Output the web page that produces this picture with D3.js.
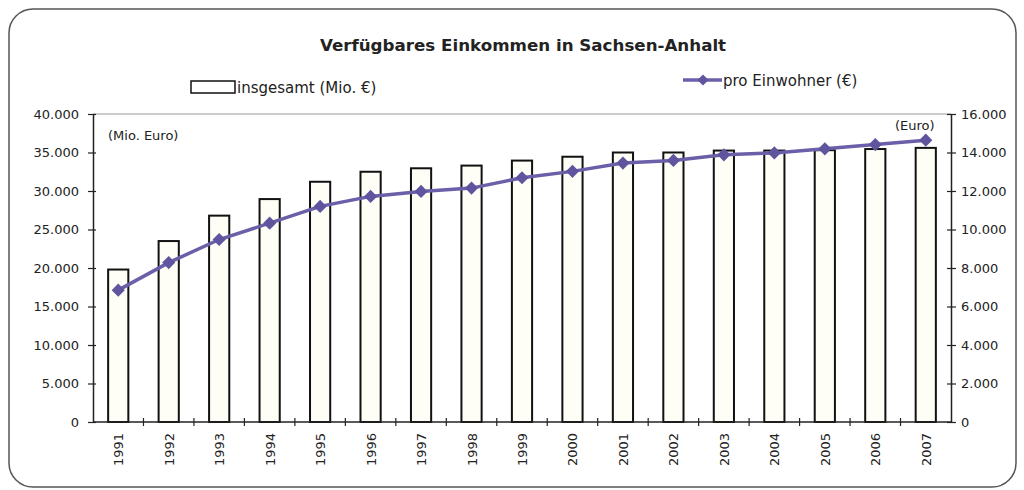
<!DOCTYPE html>
<html><head><meta charset="utf-8">
<script src="https://cdn.jsdelivr.net/npm/d3@7"></script>
<style>body{margin:0;background:#fff;}svg{display:block;font-family:"DejaVu Sans",sans-serif;}</style>
</head><body>
<svg id="c" width="1024" height="490"></svg>
<script>
const years = ["1991","1992","1993","1994","1995","1996","1997","1998","1999","2000","2001","2002","2003","2004","2005","2006","2007"];
const insgesamt = [19800,23500,26800,28950,31200,32500,32950,33300,33950,34450,35000,35000,35250,35250,35300,35450,35600];
const proEinwohner = [6850,8280,9480,10330,11200,11720,11980,12150,12690,13020,13450,13590,13880,13980,14190,14410,14640];
const leftTicks = [0,5000,10000,15000,20000,25000,30000,35000,40000];
const rightTicks = [0,2000,4000,6000,8000,10000,12000,14000,16000];
const fmt = d => d3.format(",")(d).replace(/,/g,".");

const svg = d3.select("#c");
const m = {l:93, r:951, t:114, b:422};
const x = d3.scaleBand().domain(years).range([m.l, m.r]).paddingInner(0.6).paddingOuter(0.3);
const xb = d3.scaleBand().domain(years).range([m.l, m.r]);
const yL = d3.scaleLinear().domain([0,40000]).range([m.b, m.t]);
const yR = d3.scaleLinear().domain([0,16000]).range([m.b, m.t]);

// frame
svg.append("rect").attr("x",9).attr("y",9).attr("width",1007).attr("height",478).attr("rx",24)
  .attr("fill","none").attr("stroke","#555").attr("stroke-width",1.5);

// title
svg.append("text").attr("x",523).attr("y",51).attr("text-anchor","middle")
  .attr("font-size",16.7).attr("font-weight","bold").attr("fill","#222").text("Verfügbares Einkommen in Sachsen-Anhalt");

// legend
svg.append("rect").attr("x",191).attr("y",81).attr("width",44).attr("height",12)
  .attr("fill","#fff").attr("stroke","#111").attr("stroke-width",1.5);
svg.append("text").attr("x",237).attr("y",93).attr("font-size",15).attr("fill","#222").text("insgesamt (Mio. €)");
svg.append("line").attr("x1",683).attr("x2",722).attr("y1",80).attr("y2",80)
  .attr("stroke","#6a5fa8").attr("stroke-width",3.5);
svg.append("path").attr("d",d3.symbol(d3.symbolDiamond2,80)()).attr("transform","translate(703,80)").attr("fill","#5e559e");
svg.append("text").attr("x",723).attr("y",86).attr("font-size",15).attr("fill","#222").text("pro Einwohner (€)");

// plot top border
svg.append("line").attr("x1",m.l).attr("x2",m.r).attr("y1",m.t).attr("y2",m.t).attr("stroke","#999").attr("stroke-width",1);

// bars
svg.append("g").selectAll("rect").data(years).join("rect")
  .attr("x",d=>x(d)).attr("width",x.bandwidth())
  .attr("y",(d,i)=>yL(insgesamt[i])).attr("height",(d,i)=>yL(0)-yL(insgesamt[i]))
  .attr("fill","#fefef7").attr("stroke","#111").attr("stroke-width",2);

// axes
const gl = svg.append("g").attr("transform",`translate(${m.l},0)`)
  .call(d3.axisLeft(yL).tickValues(leftTicks).tickFormat(fmt).tickSizeInner(5).tickSizeOuter(0));
const gr = svg.append("g").attr("transform",`translate(${m.r},0)`)
  .call(d3.axisRight(yR).tickValues(rightTicks).tickFormat(fmt).tickSizeInner(5).tickSizeOuter(0));
[gl,gr].forEach(g=>{
  g.select(".domain").attr("stroke","#222").attr("stroke-width",1.5);
  g.selectAll(".tick line").attr("stroke","#222").attr("stroke-width",1.2);
  g.selectAll(".tick text").attr("font-size",13).attr("fill","#222").attr("font-family","DejaVu Sans, sans-serif");
});
gl.selectAll(".tick line").attr("x1",3).attr("x2",-5);
gl.selectAll(".tick text").attr("x",-14);
gr.selectAll(".tick line").attr("x1",-4).attr("x2",5);
gr.selectAll(".tick text").attr("x",10);

// x axis
const gx = svg.append("g").attr("transform",`translate(0,${m.b})`);
gx.append("line").attr("x1",m.l).attr("x2",m.r).attr("stroke","#222").attr("stroke-width",1.5);
gx.selectAll("line.t").data(years.slice(1)).join("line").attr("class","t")
  .attr("x1",d=>xb(d)).attr("x2",d=>xb(d)).attr("y1",-4).attr("y2",4).attr("stroke","#222").attr("stroke-width",1.2);
gx.selectAll("text").data(years).join("text")
  .attr("transform",d=>`translate(${xb(d)+xb.bandwidth()/2+5},11) rotate(-90)`)
  .attr("text-anchor","end").attr("font-size",13).attr("fill","#222").text(d=>d);

// unit labels
svg.append("text").attr("x",108).attr("y",140).attr("font-size",13).attr("fill","#222").text("(Mio. Euro)");
svg.append("text").attr("x",895).attr("y",130).attr("font-size",13).attr("fill","#222").text("(Euro)");

// line
const cx = d => xb(d)+xb.bandwidth()/2;
svg.append("path").datum(years).attr("fill","none").attr("stroke","#6a5fa8").attr("stroke-width",3.5)
  .attr("d",d3.line().x(cx).y((d,i)=>yR(proEinwohner[i])));
svg.append("g").selectAll("path").data(years).join("path")
  .attr("d",d3.symbol(d3.symbolDiamond2,110)())
  .attr("transform",(d,i)=>`translate(${cx(d)},${yR(proEinwohner[i])})`)
  .attr("fill","#5e559e");
</script>
</body></html>
